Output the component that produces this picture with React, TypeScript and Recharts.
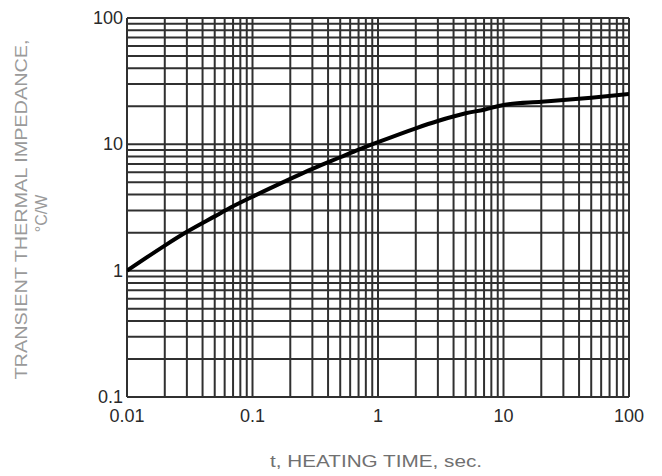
import React from "react"
import { LineChart, Line, XAxis, YAxis, ReferenceLine } from "recharts"

// heating time t (sec) and transient thermal impedance (°C/W)
const times = [0.01, 0.02, 0.03, 0.05, 0.07, 0.1, 0.2, 0.3, 0.5, 0.7, 1, 2, 3, 5, 7, 10, 20, 30, 50, 100]
const impedance = [1.0, 1.58, 2.03, 2.69, 3.23, 3.85, 5.33, 6.4, 7.9, 9.07, 10.4, 13.4, 15.3, 17.6, 18.8, 20.5, 21.7, 22.4, 23.4, 25.0]

const xTicks = [0.01, 0.1, 1, 10, 100]
const yTicks = [0.1, 1, 10, 100]

const xGrid = [
  0.01, 0.02, 0.03, 0.04, 0.05, 0.06, 0.07, 0.08, 0.09,
  0.1, 0.2, 0.3, 0.4, 0.5, 0.6, 0.7, 0.8, 0.9,
  1, 2, 3, 4, 5, 6, 7, 8, 9,
  10, 20, 30, 40, 50, 60, 70, 80, 90, 100,
]
const yGrid = [
  0.1, 0.2, 0.3, 0.4, 0.5, 0.6, 0.7, 0.8, 0.9,
  1, 2, 3, 4, 5, 6, 7, 8, 9,
  10, 20, 30, 40, 50, 60, 70, 80, 90, 100,
]

const data = times.map((t, i) => ({ t, z: impedance[i] }))

const FONT = "'Liberation Sans', Arial, sans-serif"
const GRID = "#303030"

const XTick = (props: any) => {
  const { x, y, payload } = props
  return (
    <text x={x} y={y} dy={17} textAnchor="middle" fontFamily={FONT} fontSize={18} fill="#2a2a2a">
      {payload.value}
    </text>
  )
}

const YTick = (props: any) => {
  const { x, y, payload } = props
  return (
    <text x={x} y={y} dy={6} textAnchor="end" fontFamily={FONT} fontSize={18} fill="#2a2a2a">
      {payload.value}
    </text>
  )
}

const YLabel = (props: any) => {
  const vb = props.viewBox
  const cy = vb.y + vb.height / 2 + 2
  return (
    <g fontFamily={FONT} fill="#9a9a9a" fontSize={16}>
      <text
        x={23}
        y={cy}
        textAnchor="middle"
        dominantBaseline="middle"
        transform={`rotate(-90 23 ${cy})`}
        textLength={340}
        lengthAdjust="spacingAndGlyphs"
      >
        TRANSIENT THERMAL IMPEDANCE,
      </text>
      <text
        x={43}
        y={cy + 4}
        textAnchor="middle"
        dominantBaseline="middle"
        transform={`rotate(-90 43 ${cy + 4})`}
      >
        °C/W
      </text>
    </g>
  )
}

const XLabel = (props: any) => {
  const vb = props.viewBox
  return (
    <text
      x={vb.x + vb.width / 2 - 2}
      y={467}
      textAnchor="middle"
      fontFamily={FONT}
      fontSize={16}
      fill="#707070"
      textLength={212}
      lengthAdjust="spacingAndGlyphs"
    >
      t, HEATING TIME, sec.
    </text>
  )
}

export default function App() {
  return (
    <div style={{ position: "absolute", left: 0, top: 0, background: "#fff" }}>
      <LineChart width={662} height={476} data={data} margin={{ top: 18, right: 33, bottom: 0, left: 0 }}>
        <XAxis
          dataKey="t"
          type="number"
          scale="log"
          domain={[0.01, 100]}
          ticks={xTicks}
          height={79}
          axisLine={false}
          tickLine={false}
          tick={<XTick />}
          tickMargin={2}
          allowDataOverflow
          label={<XLabel />}
        />
        <YAxis
          type="number"
          scale="log"
          domain={[0.1, 100]}
          ticks={yTicks}
          width={127}
          axisLine={false}
          tickLine={false}
          tick={<YTick />}
          tickMargin={-2}
          allowDataOverflow
          label={<YLabel />}
        />
        {xGrid.map((v) => (
          <ReferenceLine key={`x${v}`} x={v} stroke={GRID} strokeWidth={2} ifOverflow="visible" />
        ))}
        {yGrid.map((v) => (
          <ReferenceLine key={`y${v}`} y={v} stroke={GRID} strokeWidth={2} ifOverflow="visible" />
        ))}
        <Line
          dataKey="z"
          type="monotone"
          stroke="#000"
          strokeWidth={4}
          dot={false}
          isAnimationActive={false}
        />
      </LineChart>
    </div>
  )
}
